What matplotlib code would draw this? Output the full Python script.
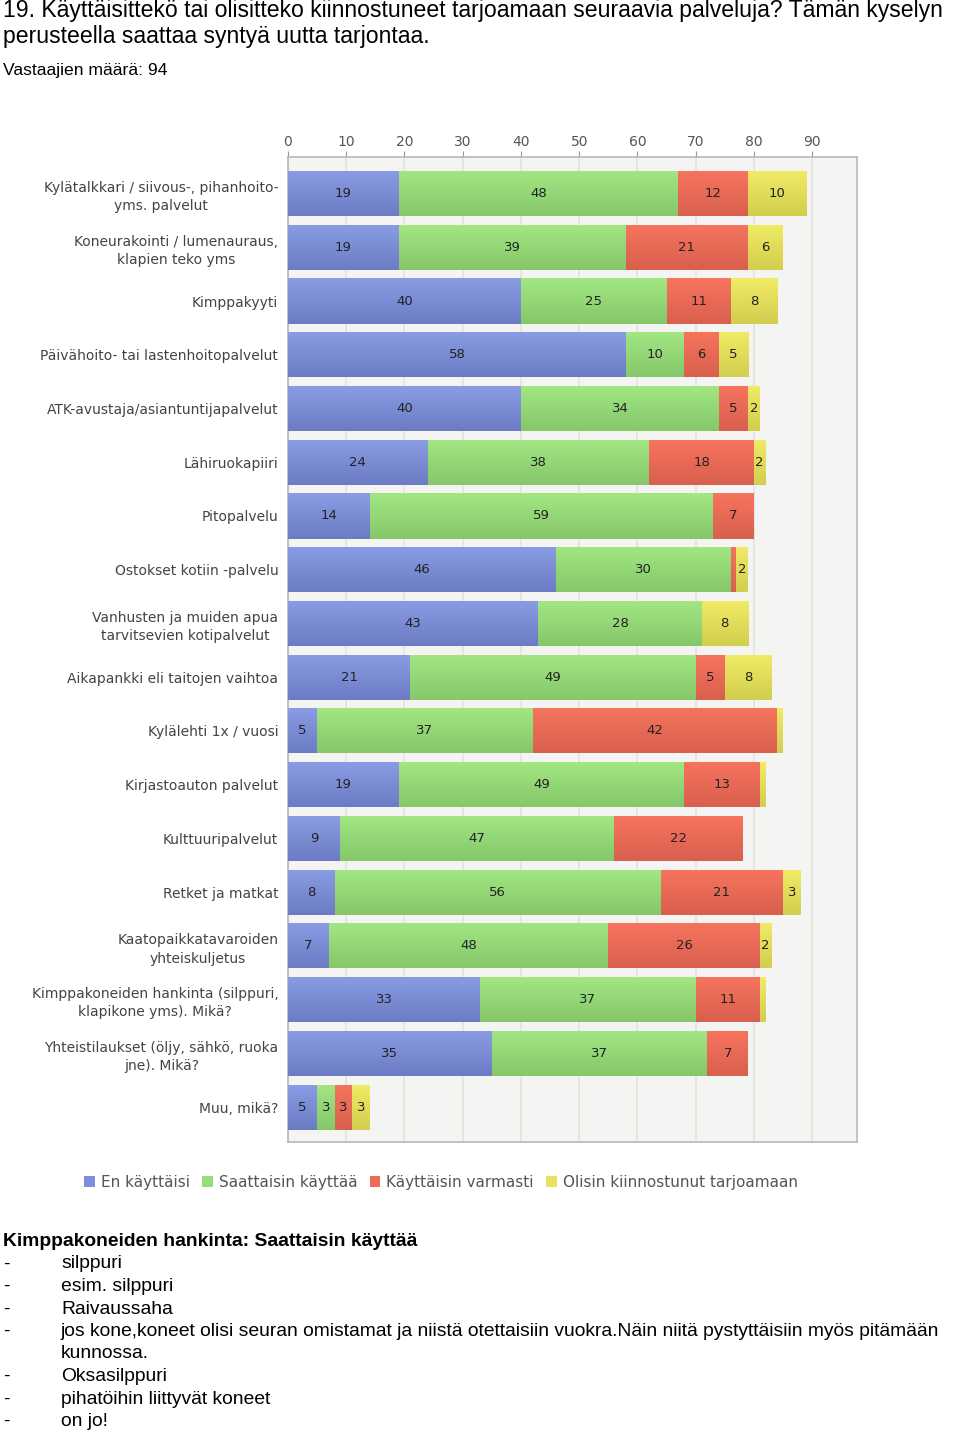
import matplotlib
matplotlib.use('Agg')
import matplotlib.pyplot as plt
import numpy as np
from matplotlib.colors import LinearSegmentedColormap

# Data
categories = [
    'Kylätalkkari / siivous-, pihanhoito-\nyms. palvelut',
    'Koneurakointi / lumenauraus,\nklapien teko yms',
    'Kimppakyyti',
    'Päivähoito- tai lastenhoitopalvelut',
    'ATK-avustaja/asiantuntijapalvelut',
    'Lähiruokapiiri',
    'Pitopalvelu',
    'Ostokset kotiin -palvelu',
    'Vanhusten ja muiden apua\ntarvitsevien kotipalvelut',
    'Aikapankki eli taitojen vaihtoa',
    'Kylälehti 1x / vuosi',
    'Kirjastoauton palvelut',
    'Kulttuuripalvelut',
    'Retket ja matkat',
    'Kaatopaikkatavaroiden\nyhteiskuljetus',
    'Kimppakoneiden hankinta (silppuri,\nklapikone yms). Mikä?',
    'Yhteistilaukset (öljy, sähkö, ruoka\njne). Mikä?',
    'Muu, mikä?',
]
en_kayttaisi = [19, 19, 40, 58, 40, 24, 14, 46, 43, 21, 5, 19, 9, 8, 7, 33, 35, 5]
saattaisin = [48, 39, 25, 10, 34, 38, 59, 30, 28, 49, 37, 49, 47, 56, 48, 37, 37, 3]
varmasti = [12, 21, 11, 6, 5, 18, 7, 1, 0, 5, 42, 13, 22, 21, 26, 11, 7, 3]
kiinnostunut = [10, 6, 8, 5, 2, 2, 0, 2, 8, 8, 1, 1, 0, 3, 2, 1, 0, 3]
series_names = ['En käyttäisi', 'Saattaisin käyttää', 'Käyttäisin varmasti',
                'Olisin kiinnostunut tarjoamaan']
series_colors = ['#7d8fdb', '#97dd78', '#ee6b56', '#e7e35c']
# light top / dark bottom for the bar shading
grad_colors = [('#8a9ce4', '#6b7cc4'), ('#a3e783', '#85c76a'),
               ('#f7745e', '#d8604e'), ('#f0ec66', '#d2ce4e')]
xticks = [0, 10, 20, 30, 40, 50, 60, 70, 80, 90]

comment_title = 'Kimppakoneiden hankinta: Saattaisin käyttää'
comments = ['silppuri', 'esim. silppuri', 'Raivaussaha',
            'jos kone,koneet olisi seuran omistamat ja niistä otettaisiin vuokra.Näin niitä pystyttäisiin myös pitämään\nkunnossa.',
            'Oksasilppuri', 'pihatöihin liittyvät koneet', 'on jo!']

fig = plt.figure(figsize=(9.6, 14.34), dpi=100)
fig.patch.set_facecolor('white')

# header
fig.text(3 / 960, 1 - 11 / 1434, '19. Käyttäisittekö tai olisitteko kiinnostuneet tarjoamaan seuraavia palveluja? Tämän kyselyn',
         fontsize=16.6, family='Liberation Sans', va='center', ha='left')
fig.text(3 / 960, 1 - 37 / 1434, 'perusteella saattaa syntyä uutta tarjontaa.',
         fontsize=16.6, family='Liberation Sans', va='center', ha='left')
fig.text(3 / 960, 1 - 70 / 1434, 'Vastaajien määrä: 94', fontsize=12.6, family='Liberation Sans',
         va='center', ha='left')

ax = fig.add_axes([288 / 960, 1 - 1142 / 1434, (857 - 288) / 960, (1142 - 157) / 1434])
ax.set_facecolor('#f4f5f2')

bh = 0.84
y = np.arange(len(categories))
left = np.zeros(len(categories))
handles = []
for vals, name, col, gc in zip([en_kayttaisi, saattaisin, varmasti, kiinnostunut],
                               series_names, series_colors, grad_colors):
    vals = np.array(vals, dtype=float)
    bars = ax.barh(y, vals, left=left, height=bh, color=col, edgecolor='none', label=name, zorder=3)
    handles.append(bars)
    cmap = LinearSegmentedColormap.from_list(name, list(gc))
    grad = np.linspace(0, 1, 64).reshape(-1, 1)
    for patch, yi, l, v in zip(bars.patches, y, left, vals):
        if v <= 0:
            continue
        im = ax.imshow(grad, extent=[l, l + v, yi + bh / 2, yi - bh / 2], cmap=cmap,
                       aspect='auto', origin='upper', zorder=3.5, interpolation='bilinear')
        im.set_clip_path(patch)
        if v >= 2:
            ax.text(l + v / 2, yi, f'{int(v)}', ha='center', va='center', fontsize=9.5,
                    color='#222222', family='DejaVu Sans', zorder=4)
    left += vals

ax.set_xlim(0, 97.7)
ax.set_ylim(17.65, -0.68)
ax.set_aspect('auto')
ax.xaxis.tick_top()
ax.set_xticks(xticks)
ax.set_xticklabels([str(t) for t in xticks], fontsize=10, color='#555555', family='DejaVu Sans')
ax.tick_params(axis='x', length=4, color='#999999', pad=2)
ax.set_yticks(y)
ax.set_yticklabels(categories, fontsize=10, color='#444444', family='DejaVu Sans',
                   multialignment='center', linespacing=1.4)
ax.tick_params(axis='y', length=0, pad=7)
ax.grid(axis='x', color='#e2e2de', linewidth=1.2, zorder=0)
for s in ax.spines.values():
    s.set_color('#b8b8b8')
    s.set_linewidth(1.2)

leg = fig.legend(handles=handles, labels=series_names, loc='center',
                 bbox_to_anchor=(441 / 960, 1 - 1182 / 1434), ncol=4, frameon=False,
                 handlelength=0.7, handleheight=0.7, handletextpad=0.4, columnspacing=0.8,
                 prop={'family': 'DejaVu Sans', 'size': 11})
for t in leg.get_texts():
    t.set_color('#555555')

# comments below the chart
fs = 13.9
fig.text(3 / 960, 1 - 1241 / 1434, comment_title, fontsize=fs, fontweight='bold',
         family='Liberation Sans', va='center', ha='left')
line_h = 22.5
yy = 1264
for c in comments:
    fig.text(3 / 960, 1 - yy / 1434, '-', fontsize=fs, family='Liberation Sans',
             va='center', ha='left')
    for p in c.split('\n'):
        fig.text(61 / 960, 1 - yy / 1434, p, fontsize=fs, family='Liberation Sans',
                 va='center', ha='left')
        yy += line_h

fig.savefig('out.png', dpi=100)
